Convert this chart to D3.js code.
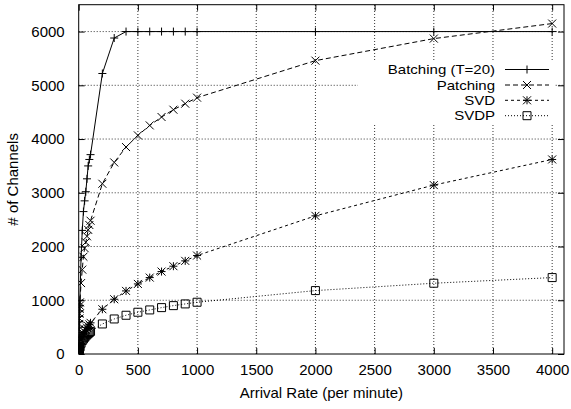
<!DOCTYPE html>
<html><head><meta charset="utf-8">
<script src="https://cdn.jsdelivr.net/npm/d3@7"></script>
<style>body{margin:0;background:#fff;} text{font-family:"Liberation Sans",Arial,Helvetica,sans-serif;}</style>
</head><body><svg id="c" width="571" height="409"></svg>
<script>
const rates = [1,2,3,4,5,6,7,8,9,10,20,30,40,50,60,70,80,90,100,200,300,400,500,600,700,800,900,1000,2000,3000,4000];
const batching = [100,200,300,400,500,600,700,800,900,1000,1800,2300,2650,2850,3020,3260,3500,3620,3710,5220,5880,6000,6000,6000,6000,6000,6000,6000,6000,6000,6000];
const patching = [120,240,350,460,560,660,750,840,900,960,1320,1570,1810,1970,2080,2190,2310,2400,2480,3168,3565,3851,4068,4254,4410,4546,4658,4770,5459,5869,6149];
const svd = [40,65,85,100,115,130,145,155,165,180,260,320,370,410,450,490,520,550,580,833,1019,1174,1304,1422,1534,1634,1733,1832,2571,3143,3620];
const svdp = [35,55,70,85,95,105,115,125,130,140,200,250,280,310,335,360,380,400,420,559,652,721,777,820,863,900,932,963,1180,1317,1422];
const seriesNames = ["Batching (T=20)","Patching","SVD","SVDP"];
const xTicks = [0,500,1000,1500,2000,2500,3000,3500,4000];
const yTicks = [0,1000,2000,3000,4000,5000,6000];
const xLabel = "Arrival Rate (per minute)";
const yLabel = "# of Channels";

const L=78.7, R=564, T=4.7, B=354;
const svg = d3.select("#c");
const x = d3.scaleLinear().domain([0,4100]).range([L,R]);
const y = d3.scaleLinear().domain([0,6500]).range([B,T]);

// grid
const g = svg.append("g");
g.selectAll(".gx").data(xTicks.filter(d=>d>0)).join("line")
 .attr("x1",d=>x(d)).attr("x2",d=>x(d)).attr("y1",B).attr("y2",T)
 .attr("stroke","#000").attr("stroke-width",0.8).attr("stroke-dasharray","1,2");
g.selectAll(".gy").data(yTicks.filter(d=>d>0)).join("line")
 .attr("y1",d=>y(d)).attr("y2",d=>y(d)).attr("x1",L).attr("x2",R)
 .attr("stroke","#000").attr("stroke-width",0.8).attr("stroke-dasharray","1,2");

// axes with inward ticks
const fontSize = 15;
const ax = svg.append("g").attr("transform",`translate(0,${B})`)
 .call(d3.axisBottom(x).tickValues(xTicks).tickSize(-6).tickPadding(10).tickFormat(d3.format("d")));
const axT = svg.append("g").attr("transform",`translate(0,${T})`)
 .call(d3.axisTop(x).tickValues(xTicks).tickSize(-6).tickFormat(""));
const ay = svg.append("g").attr("transform",`translate(${L},0)`)
 .call(d3.axisLeft(y).tickValues(yTicks).tickSize(-6).tickPadding(14).tickFormat(d3.format("d")));
const ayR = svg.append("g").attr("transform",`translate(${R},0)`)
 .call(d3.axisRight(y).tickValues(yTicks).tickSize(-6).tickFormat(""));
[ax,axT,ay,ayR].forEach(a=>{
  a.select(".domain").remove();
  a.selectAll("line").attr("stroke","#000");
  a.selectAll("text").attr("font-size",fontSize).attr("fill","#000").attr("font-family","Liberation Sans, Arial, sans-serif");
});
svg.append("rect").attr("x",L).attr("y",T).attr("width",R-L).attr("height",B-T)
 .attr("fill","none").attr("stroke","#000").attr("stroke-width",1);

// labels
svg.append("text").attr("x",(L+R)/2).attr("y",398).attr("text-anchor","middle").attr("font-size",fontSize).text(xLabel);
svg.append("text").attr("transform",`translate(18,${(T+B)/2}) rotate(-90)`).attr("text-anchor","middle").attr("font-size",fontSize).text(yLabel);

// legend background (opaque)
svg.append("rect").attr("x",358).attr("y",62).attr("width",197).attr("height",61).attr("fill","#fff");

const styles = [
  {dash:null, marker:"plus"},
  {dash:"5,3", marker:"cross"},
  {dash:"3,3", marker:"star"},
  {dash:"1,2", marker:"box"}
];
const data = [batching,patching,svd,svdp];
svg.append("clipPath").attr("id","cp").append("rect").attr("x",L).attr("y",T).attr("width",R-L).attr("height",B-T);
const line = d3.line().x(d=>x(d[0])).y(d=>y(d[1]));
function marker(sel, type, cx, cy){
  const s=4;
  const p = sel.append("path").attr("fill","none").attr("stroke","#000").attr("stroke-width",1);
  let dd="";
  if(type==="plus"||type==="star") dd+=`M${cx-s},${cy}H${cx+s}M${cx},${cy-s}V${cy+s}`;
  if(type==="cross"||type==="star") dd+=`M${cx-s},${cy-s}L${cx+s},${cy+s}M${cx-s},${cy+s}L${cx+s},${cy-s}`;
  if(type==="box") dd=`M${cx-s},${cy-s}H${cx+s}V${cy+s}H${cx-s}Z`;
  p.attr("d",dd);
}
const plot = svg.append("g").attr("clip-path","url(#cp)");
data.forEach((vals,i)=>{
  const pts = rates.map((r,j)=>[r,vals[j]]);
  plot.append("path").datum(pts).attr("d",line).attr("fill","none").attr("stroke","#000").attr("stroke-width",1)
    .attr("stroke-dasharray",styles[i].dash);
  pts.forEach(p=>marker(plot, styles[i].marker, x(p[0]), y(p[1])));
});

// legend (13px glyphs stretched to 15px-wide text so rows don't overlap)
const legY = [69.5,85,100.3,115.7];
seriesNames.forEach((n,i)=>{
  const t = svg.append("text").attr("x",495).attr("y",legY[i]).attr("dy","0.35em").attr("text-anchor","end").attr("font-size",fontSize).text(n);
  const w = t.node().getComputedTextLength();
  t.attr("font-size",13).attr("textLength",w).attr("lengthAdjust","spacingAndGlyphs");
  svg.append("line").attr("x1",505).attr("x2",549).attr("y1",legY[i]).attr("y2",legY[i]).attr("stroke","#000").attr("stroke-width",1).attr("stroke-dasharray",styles[i].dash);
  marker(svg, styles[i].marker, 527, legY[i]);
});
</script></body></html>
